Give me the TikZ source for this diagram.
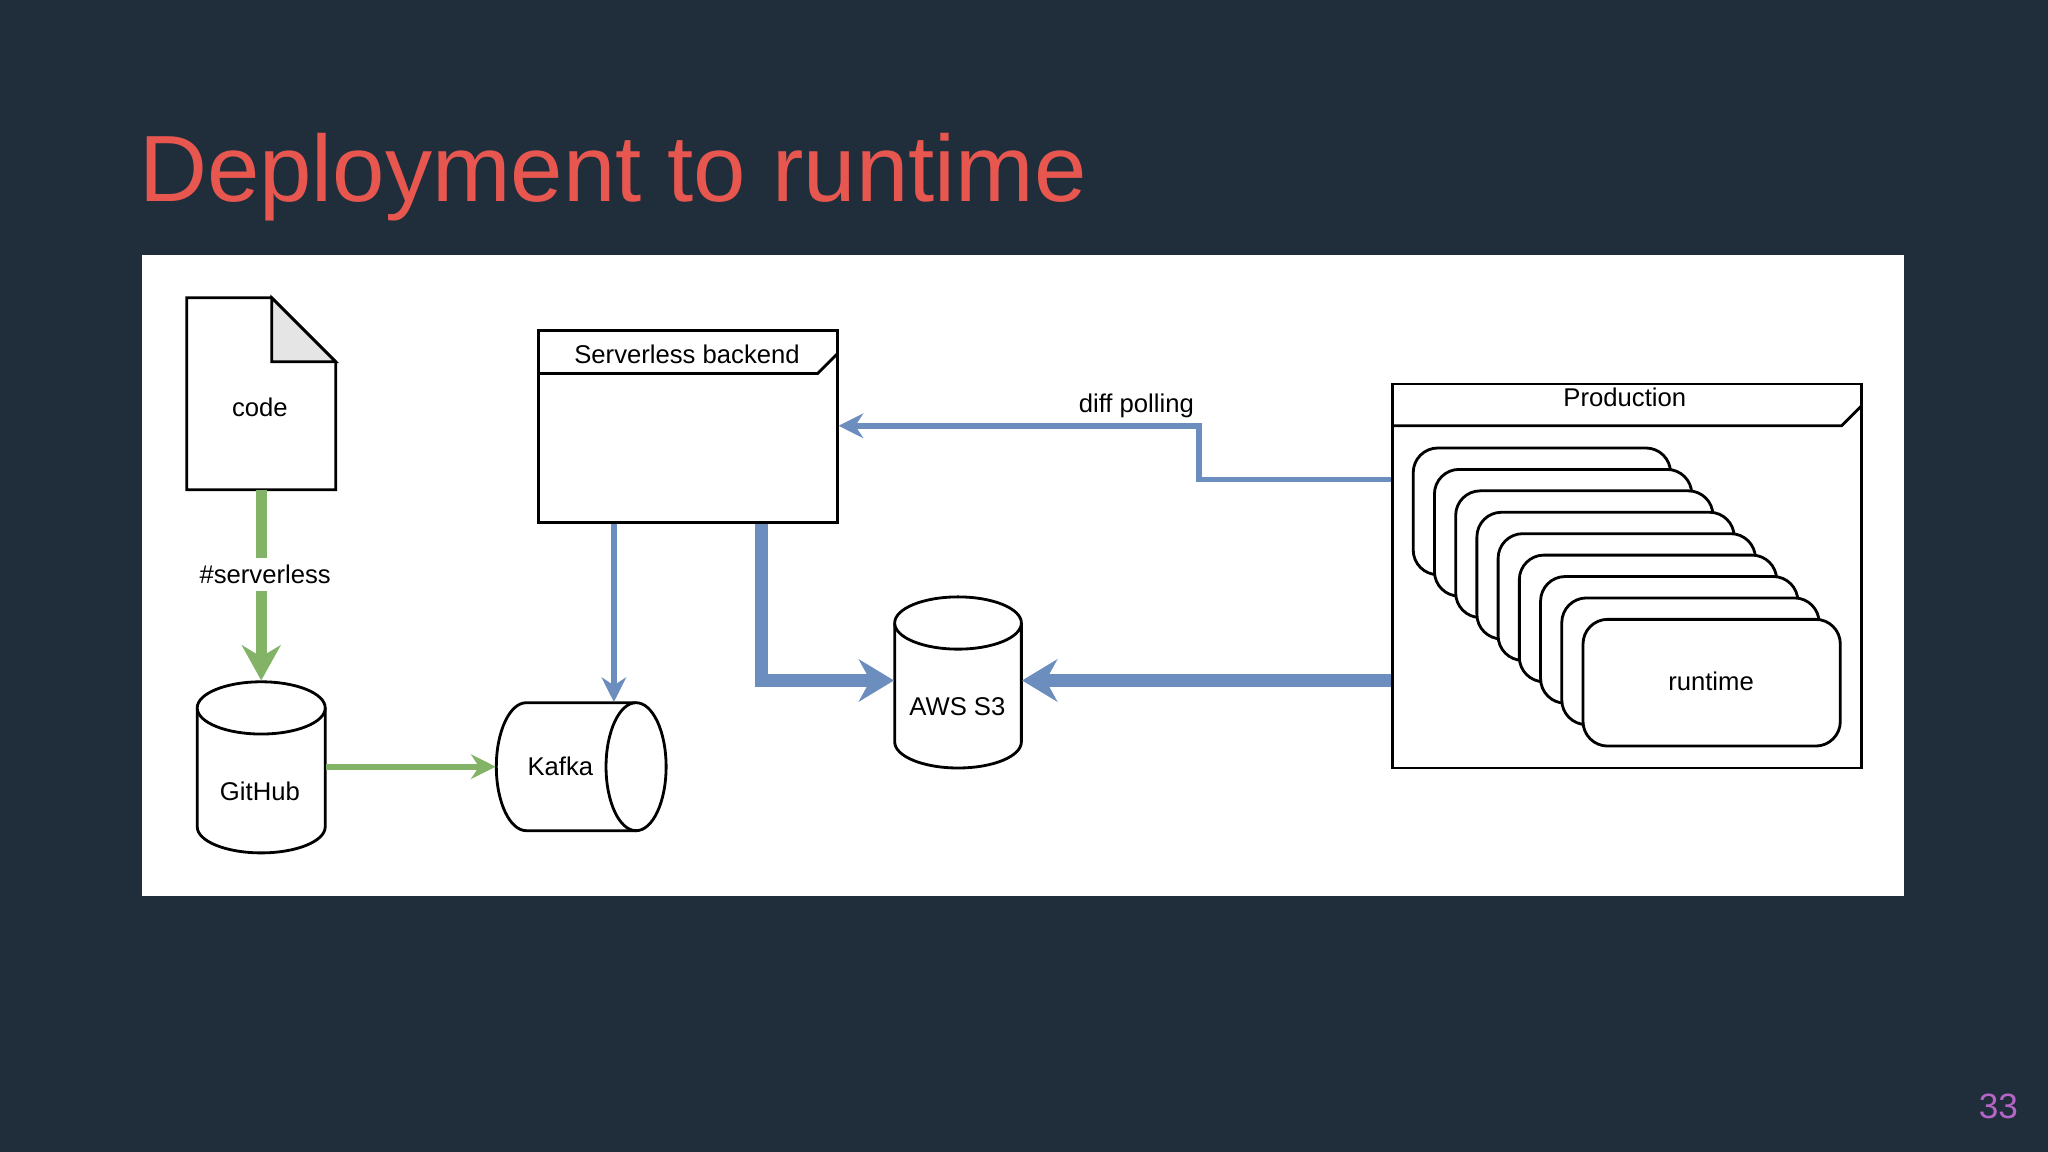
\documentclass[tikz,border=0pt]{standalone}
\usepackage{fontspec}
\setmainfont{Liberation Sans}
\usetikzlibrary{arrows.meta}
\definecolor{slidebg}{HTML}{202D3A}
\definecolor{titlered}{HTML}{E8574F}
\definecolor{pagepurple}{HTML}{B565C8}
\definecolor{flowblue}{HTML}{6C8EBF}
\definecolor{flowgreen}{HTML}{82B366}
\newcommand\pxu{0.013061cm}
\begin{document}
\begin{tikzpicture}[x=0.013061cm, y=-0.013061cm,
    every node/.style={font=\fontsize{7.3}{9}\selectfont},
    box/.style={draw, thick, inner sep=0pt},
    ghost/.style={inner sep=0pt},
    runtime/.style={draw, thick, fill=white, rounded corners=7pt, minimum width=197*\pxu, minimum height=97*\pxu, inner sep=0pt},
    blueline/.style={draw=flowblue, line width=1.6pt, -{Stealth[length=7pt,width=7pt]}},
    bluefat/.style={draw=flowblue, line width=3.6pt, -{Stealth[length=10pt,width=12pt]}},
    greenline/.style={draw=flowgreen, line width=1.6pt, -{Stealth[length=7pt,width=7pt]}},
    greenfat/.style={draw=flowgreen, line width=3.2pt, -{Stealth[length=10pt,width=11pt]}}
]
% Hintergrund
\fill[slidebg] (0,0) rectangle (1568,882);
\node[anchor=base west, inner sep=0pt, text=titlered, font=\fontsize{26.8}{32}\selectfont] (titel) at (106,154) {Deployment to runtime};
\fill[white] (109,195) rectangle (1458,686);
\node[text=pagepurple, font=\fontsize{10}{12}\selectfont] (seite) at (1530,847) {33};
% Code
\draw[thick, fill=white] (143,228) -- (208,228) -- (257,277) -- (257,375) -- (143,375) -- cycle;
\draw[thick, fill=black!10] (208,228) -- (208,277) -- (257,277) -- cycle;
\node[ghost, minimum width=114*\pxu, minimum height=147*\pxu] (code) at (200,301.5) {};
\node (codetext) at (199,312) {code};
% GitHub
\draw[thick, fill=white] (151,542) -- (151,633) arc[start angle=180, end angle=0, x radius=49, y radius=20] -- (249,542);
\draw[thick, fill=white] (200,542) ellipse[x radius=49, y radius=20];
\node[ghost, minimum width=98*\pxu, minimum height=131*\pxu] (github) at (200,587.5) {};
\node (githubtext) at (199,606) {GitHub};
% Kafka
\draw[thick, fill=white] (487,538) -- (403,538) arc[start angle=270, end angle=90, x radius=23, y radius=49] -- (487,636);
\draw[thick, fill=white] (487,587) ellipse[x radius=23, y radius=49];
\node[ghost, minimum width=130*\pxu, minimum height=98*\pxu] (kafka) at (445,587) {};
\node (kafkatext) at (429,587) {Kafka};
% AWS S3
\draw[thick, fill=white] (685,477) -- (685,568) arc[start angle=180, end angle=0, x radius=48.5, y radius=20] -- (782,477);
\draw[thick, fill=white] (733.5,477) ellipse[x radius=48.5, y radius=20];
\node[ghost, minimum width=97*\pxu, minimum height=131*\pxu] (s3) at (733.5,522.5) {};
\node (s3text) at (733,541) {AWS S3};
% Serverless backend
\node[box, minimum width=229*\pxu, minimum height=147*\pxu] (backend) at (526.5,326.5) {};
\draw[thick] (412,286) -- (626,286) -- (641,271);
\node (backendtitel) at (526,271) {Serverless backend};
% Production
\node[box, minimum width=359*\pxu, minimum height=294*\pxu] (production) at (1245.5,441) {};
\draw[thick] (1066,326) -- (1410,326) -- (1425,311);
\node (productiontitel) at (1244,304) {Production};
\foreach \i in {0,...,8}
  \node[runtime] (rt\i) at ({1180.5+16.25*\i},{391.5+16.4*\i}) {};
\node (runtimetext) at (1310,522) {runtime};
% Pfeile
\coordinate (codeunten) at (200,375);
\coordinate (githuboben) at (200,521);
\draw[greenfat] (codeunten) -- (githuboben);
\node[fill=white, inner sep=2pt] (serverless) at (203,440) {\#serverless};
\draw[greenline] (github.east |- 0,587) -- (kafka.west |- 0,587);
\draw[blueline] (backend.south -| 470,0) -- (kafka.north -| 470,0);
\draw[bluefat] (backend.south -| 583,0) |- (s3.west |- 0,521);
\draw[bluefat] (production.west |- 0,521) -- (s3.east |- 0,521);
\draw[blueline] (production.west |- 0,367) -- (918,367) -- (918,326) -- (backend.east |- 0,326);
\node (diffpolling) at (870,311) {diff polling};
\end{tikzpicture}
\end{document}
